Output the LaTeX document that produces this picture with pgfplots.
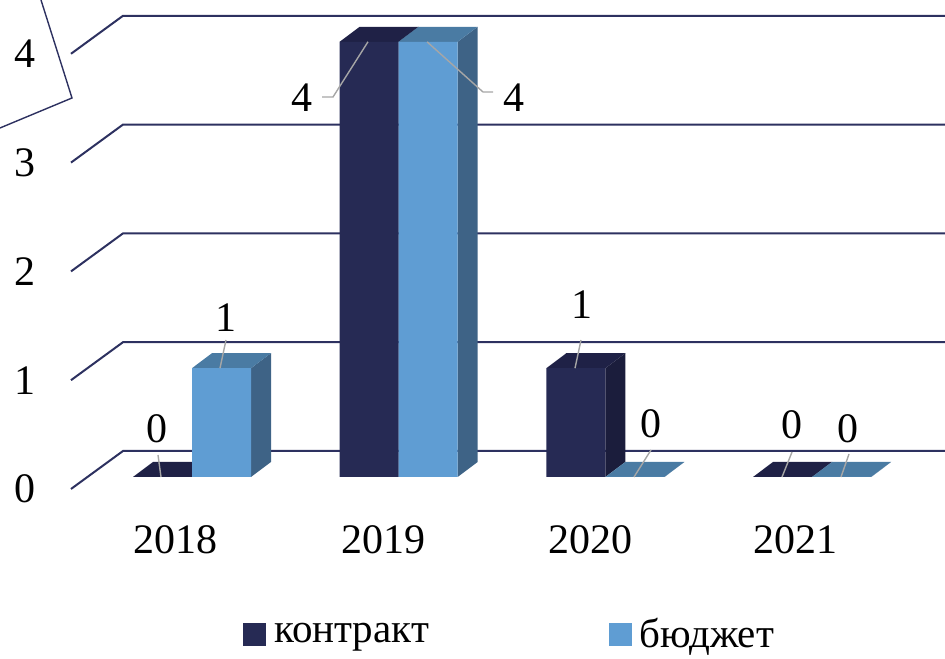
\documentclass[border=0pt]{standalone}
\usepackage{fontspec}
\setmainfont{Liberation Serif}
\usepackage{pgfplots}
\usepackage{pgfplotstable}
\pgfplotsset{compat=1.18}
\definecolor{cC}{RGB}{38,42,84}
\definecolor{cCt}{RGB}{31,33,70}
\definecolor{cCs}{RGB}{27,29,60}
\definecolor{cB}{RGB}{95,157,211}
\definecolor{cBt}{RGB}{74,123,163}
\definecolor{cBs}{RGB}{62,99,134}
\definecolor{gridc}{RGB}{45,49,96}
\definecolor{leadc}{RGB}{166,166,166}

\pgfplotstableread{
year contract budget
2018 0 1
2019 4 4
2020 1 0
2021 0 0
}\data

% side and top faces of one bar: #1 left x of front, #2 value, #3 side colour, #4 top colour
\newcommand\facesFor[4]{%
  \pgfmathsetmacro\xa{#1}%
  \pgfmathsetmacro\xb{#1+59}%
  \pgfmathsetmacro\xc{#1+79}%
  \pgfmathsetmacro\xd{#1+20}%
  \pgfmathsetmacro\yb{#2+0.138}%
  \edef\tmp{%
    \noexpand\addplot[fill=#3,draw=none,forget plot] coordinates {(\xb,0) (\xc,0.138) (\xc,\yb) (\xb,#2)};
    \noexpand\addplot[fill=#4,draw=none,forget plot] coordinates {(\xa,#2) (\xb,#2) (\xc,\yb) (\xd,\yb)};
  }\tmp}

\begin{document}
\begin{tikzpicture}[font=\fontsize{21}{25}\selectfont]
\begin{axis}[
  scale only axis, width=472.5pt, height=329.5pt,
  xmin=0, xmax=945, ymin=-1.6728, ymax=4.3842,
  clip=false,
  axis line style={draw=none}, tick style={draw=none},
  xtick={175,383,590,795}, xticklabels={2018,2019,2020,2021},
  xticklabel style={anchor=center, yshift=59.5pt},
  ytick={-0.1103,0.8897,1.8897,2.8897,3.8897}, yticklabels={0,1,2,3,4},
  yticklabel style={anchor=center, xshift=12.5pt},
  tick label style={font=\fontsize{21}{25}\selectfont},
  legend style={at={(axis cs:243,-1.443)}, anchor=west, draw=none, fill=none,
    legend columns=2, inner sep=0pt,
    /tikz/every even column/.append style={column sep=88pt},
    font=\fontsize{20.5}{24}\selectfont},
]
% walls / gridlines
\addplot[gridc, line width=1pt, forget plot] coordinates {(71,-0.1103) (123,0.239) (945,0.239)};
\addplot[gridc, line width=1pt, forget plot] coordinates {(71,0.8897) (123,1.239) (945,1.239)};
\addplot[gridc, line width=1pt, forget plot] coordinates {(71,1.8897) (123,2.239) (945,2.239)};
\addplot[gridc, line width=1pt, forget plot] coordinates {(71,2.8897) (123,3.239) (945,3.239)};
\addplot[gridc, line width=1pt, forget plot] coordinates {(71,3.8897) (123,4.239) (945,4.239)};
\addplot[gridc, line width=0.7pt, forget plot] coordinates {(41,4.3842) (72,3.4835) (0,3.2077)};

% контракт
\pgfplotsforeachungrouped \i in {0,1,2,3}{%
  \pgfplotstablegetelem{\i}{contract}\of\data
  \pgfmathsetmacro\L{133+206.67*\i}%
  \facesFor{\L}{\pgfplotsretval}{cCs}{cCt}%
}
\addplot[ybar, bar width=59, bar shift=-29.5, fill=cC, draw=none, forget plot]
  table[x expr={192+206.67*(\thisrow{year}-2018)}, y=contract] {\data};
% бюджет
\pgfplotsforeachungrouped \i in {0,1,2,3}{%
  \pgfplotstablegetelem{\i}{budget}\of\data
  \pgfmathsetmacro\L{192+206.67*\i}%
  \facesFor{\L}{\pgfplotsretval}{cBs}{cBt}%
}
\addplot[ybar, bar width=59, bar shift=29.5, fill=cB, draw=none, forget plot]
  table[x expr={192+206.67*(\thisrow{year}-2018)}, y=budget] {\data};

% leader lines
\addplot[leadc, line width=0.7pt, forget plot] coordinates {(158,0.2022) (161,0)};
\addplot[leadc, line width=0.7pt, forget plot] coordinates {(226,1.2592) (220,1)};
\addplot[leadc, line width=0.7pt, forget plot] coordinates {(322,3.4926) (333,3.4926) (368,4)};
\addplot[leadc, line width=0.7pt, forget plot] coordinates {(427,4) (483,3.5386) (493,3.5386)};
\addplot[leadc, line width=0.7pt, forget plot] coordinates {(581,1.2592) (575,1)};
\addplot[leadc, line width=0.7pt, forget plot] coordinates {(651,0.2482) (634,0)};
\addplot[leadc, line width=0.7pt, forget plot] coordinates {(792,0.2298) (782,0)};
\addplot[leadc, line width=0.7pt, forget plot] coordinates {(849,0.2114) (841,0)};

% data labels
\addplot[only marks, mark=none, forget plot, nodes near coords, point meta=explicit symbolic,
  every node near coord/.append style={anchor=center, fill=white, inner sep=1.5pt,
    font=\fontsize{21}{25}\selectfont}]
  coordinates {(157,0.4458)[0] (226,1.4614)[1] (302,3.4835)[4] (514,3.4835)[4]
               (582,1.5809)[1] (651,0.4871)[0] (792,0.4779)[0] (848,0.4458)[0]};

% legend
\addlegendimage{legend image code/.code={\fill[cC] (0pt,-5.5pt) rectangle (11pt,5.5pt); \path (13pt,0pt);}}
\addlegendentry{контракт}
\addlegendimage{legend image code/.code={\fill[cB] (0pt,-5.5pt) rectangle (11pt,5.5pt); \path (13pt,0pt);}}
\addlegendentry{бюджет}

\coordinate (SW) at (rel axis cs:0,0);
\coordinate (NE) at (rel axis cs:1,1);
\end{axis}
\pgfresetboundingbox
\path[use as bounding box] (SW) rectangle (NE);
\end{tikzpicture}
\end{document}
